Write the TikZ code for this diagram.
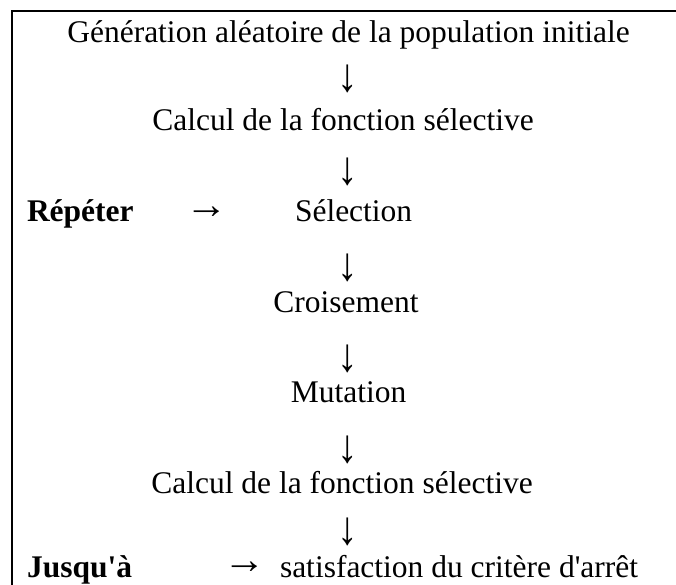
\documentclass[tikz,border=0pt]{standalone}
\usepackage{fontspec}
\setmainfont{Liberation Serif}
\newcommand{\downarr}{\scalebox{1.3}[1.5]{↓}}
\newcommand{\rightarr}{\scalebox{1.35}[1.3]{→}}
\begin{document}
\begin{tikzpicture}[x=1pt,y=-1pt,
  txt/.style={inner sep=0pt,outer sep=0pt,font=\fontsize{31.5}{36}\selectfont},
  lbl/.style={txt,font=\fontsize{31.5}{36}\selectfont\bfseries},
  border/.style={line width=2pt,black}]
\useasboundingbox (0,0) rectangle (676,585);
\draw[border] (676,11.5) -- (12,11.5) -- (12,585);
\node[txt,anchor=base] (g1) at (348.5,43) {Génération aléatoire de la population initiale};
\node[txt,anchor=center] (d1) at (348,79) {\downarr};
\node[txt,anchor=base] (c1) at (343,131) {Calcul de la fonction sélective};
\node[txt,anchor=center] (d2) at (348,171.5) {\downarr};
\node[lbl,anchor=base west] (rep) at (27,222) {Répéter};
\node[txt,anchor=center] (r1) at (207,213) {\rightarr};
\node[txt,anchor=base west] (sel) at (295,222) {Sélection};
\node[txt,anchor=center] (d3) at (348,267.5) {\downarr};
\node[txt,anchor=base] (cro) at (346,312) {Croisement};
\node[txt,anchor=center] (d4) at (348,358.5) {\downarr};
\node[txt,anchor=base] (mut) at (348.5,402) {Mutation};
\node[txt,anchor=center] (d5) at (348,450) {\downarr};
\node[txt,anchor=base] (c2) at (342,493) {Calcul de la fonction sélective};
\node[txt,anchor=center] (d6) at (348,532) {\downarr};
\node[lbl,anchor=base west] (jus) at (27,577) {Jusqu\textquotesingle à};
\node[txt,anchor=center] (r2) at (245,568) {\rightarr};
\node[txt,anchor=base west] (sat) at (280,577) {satisfaction du critère d\textquotesingle arrêt};
\end{tikzpicture}
\end{document}
